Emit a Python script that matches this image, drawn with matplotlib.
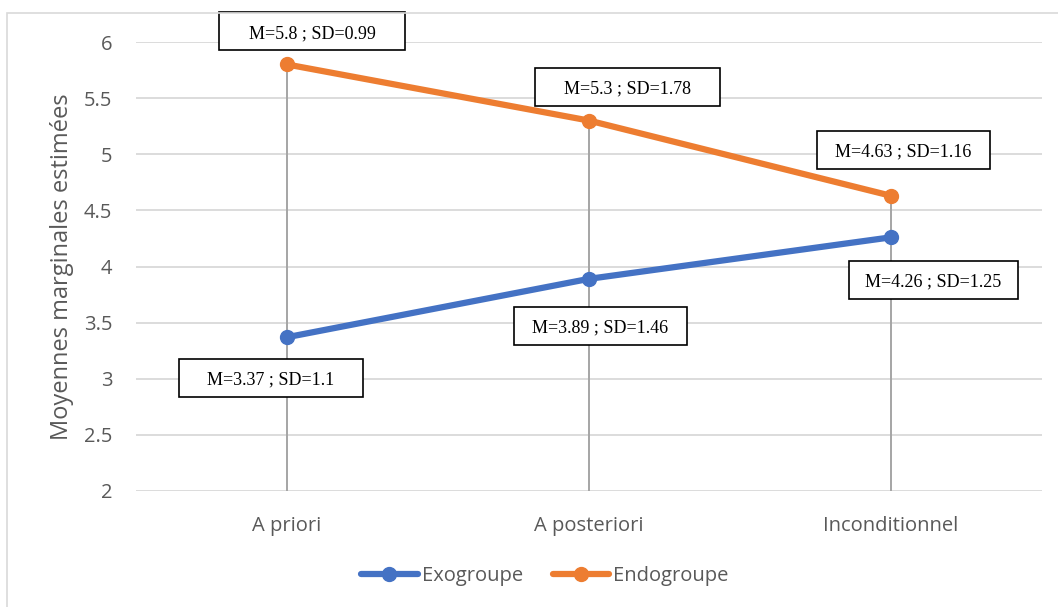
import matplotlib.pyplot as plt
import matplotlib.transforms as mtransforms
from matplotlib.patches import Rectangle

# estimated marginal means per condition
categories = ["A priori", "A posteriori", "Inconditionnel"]
exo_mean = [3.37, 3.89, 4.26]
exo_sd = [1.1, 1.46, 1.25]
endo_mean = [5.8, 5.3, 4.63]
endo_sd = [0.99, 1.78, 1.16]

# label box placement, pixels relative to the point: (dx, dy, width, height)
exo_boxes = [(-16, -41, 184, 38), (11, -47, 173, 38), (42, -43, 169, 38)]
endo_boxes = [(25, 33, 186, 38), (38, 34, 185, 38), (12, 46, 173, 38)]

BLUE = "#4472C4"
ORANGE = "#ED7D31"
TXT = "#595959"
W, H, DPI = 1058, 607, 100

plt.rcParams['font.family'] = ['Open Sans', 'DejaVu Sans']

fig = plt.figure(figsize=(W / DPI, H / DPI), dpi=DPI)
ax = fig.add_axes([136 / W, (H - 491) / H, (1042 - 136) / W, (491 - 42) / H])

# outer chart frame
fig.patches.append(Rectangle((7 / W, -0.1), 1.2, (H - 13) / H + 0.1,
                             transform=fig.transFigure, fill=False,
                             edgecolor="#D9D9D9", linewidth=1.2))

x = list(range(len(categories)))
ax.set_xlim(-0.5, len(categories) - 0.5)
ax.set_ylim(2, 6)
ax.set_yticks([2, 2.5, 3, 3.5, 4, 4.5, 5, 5.5, 6])
ax.set_yticklabels(["2", "2.5", "3", "3.5", "4", "4.5", "5", "5.5", "6"])
ax.set_xticks(x)
ax.set_xticklabels(categories)
ax.grid(axis="y", color="#D9D9D9", linewidth=1.3)
ax.set_axisbelow(True)
for s in ax.spines.values():
    s.set_visible(False)
ax.tick_params(length=0, labelsize=14.5, labelcolor=TXT)
ax.tick_params(axis="y", pad=17)
ax.tick_params(axis="x", pad=18)
ax.set_ylabel("Moyennes marginales estimées", fontsize=17, color=TXT, labelpad=7)

# high-low drop lines
for i in x:
    ax.vlines(i, 2, max(exo_mean[i], endo_mean[i]), color="#A5A5A5",
              linewidth=1.4, zorder=2)

ax.plot(x, exo_mean, color=BLUE, lw=4.5, marker="o", ms=10, label="Exogroupe",
        solid_capstyle="round", zorder=3)
ax.plot(x, endo_mean, color=ORANGE, lw=4.5, marker="o", ms=10, label="Endogroupe",
        solid_capstyle="round", zorder=3)


def label_box(xi, m, sd, box):
    dx, dy, bw, bh = box
    trans = fig.dpi_scale_trans + mtransforms.ScaledTranslation(xi, m, ax.transData)
    cx, cy = dx / DPI, dy / DPI
    rect = Rectangle((cx - bw / DPI / 2, cy - bh / DPI / 2), bw / DPI, bh / DPI,
                     transform=trans, facecolor="white", edgecolor="black",
                     linewidth=1.2, zorder=5, clip_on=False)
    ax.add_patch(rect)
    ax.text(cx, cy - 0.02, f"M={m} ; SD={sd}", transform=trans, ha="center",
            va="center", fontsize=13, family="Liberation Serif", color="black",
            zorder=6)


for i in x:
    label_box(i, exo_mean[i], exo_sd[i], exo_boxes[i])
    label_box(i, endo_mean[i], endo_sd[i], endo_boxes[i])

fig.legend(loc="center", bbox_to_anchor=(545 / W, (H - 576) / H), ncol=2,
           frameon=False, fontsize=14.5, labelcolor=TXT, handlelength=2.8,
           columnspacing=1.5, handletextpad=0.2)

fig.savefig("out.png", dpi=DPI)
